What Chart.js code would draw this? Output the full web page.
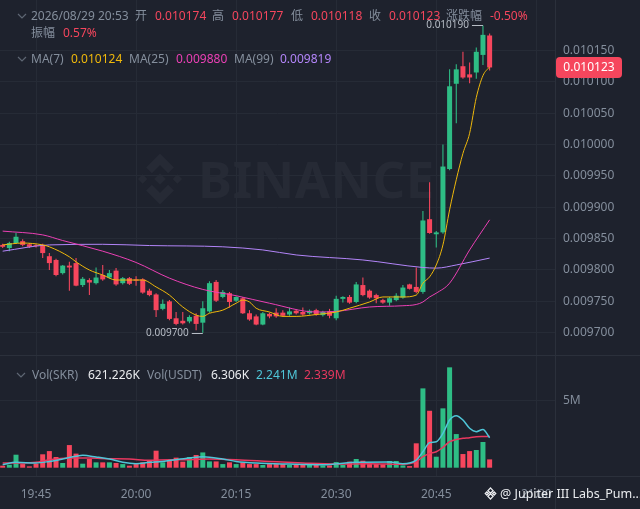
<!DOCTYPE html>
<html>
<head>
<meta charset="utf-8">
<script src="https://cdn.jsdelivr.net/npm/chart.js@4.4.1/dist/chart.umd.min.js"></script>
<style>
  body { margin: 0; background: #1e222d; overflow: hidden; font-family: "Noto Sans", "Noto Sans CJK SC", sans-serif; }
  #wrap { position: relative; width: 640px; height: 509px; }
  .t { position: absolute; font-size: 12px; line-height: 14px; white-space: nowrap; color: #848e9c; }
  .r { color: #f6465d; }
  .w { color: #eaecef; }
  .box { position: absolute; left: 0; width: 640px; }
  .sep { position: absolute; background: #2b303b; }
  .chev { position: absolute; }
</style>
</head>
<body>
<div id="wrap">
  <!-- watermark -->
  <svg style="position:absolute;left:130px;top:150px" width="60" height="58" viewBox="0 0 100 100">
    <g fill="#262a35">
      <polygon points="50,40 60,50 50,60 40,50"/>
      <polygon points="20,42 28,50 20,58 12,50"/>
      <polygon points="80,42 88,50 80,58 72,50"/>
      <polygon points="50,6 74,30 64,40 50,26 36,40 26,30"/>
      <polygon points="50,94 74,70 64,60 50,74 36,60 26,70"/>
    </g>
  </svg>
  <div style="position:absolute;left:198px;top:143px;font-size:51px;font-weight:bold;color:#262a35;letter-spacing:0.5px;">BINANCE</div>

  <div class="box" style="top:0;height:356px"><canvas id="price"></canvas></div>
  <div class="box" style="top:356px;height:153px"><canvas id="vol"></canvas></div>

  <div class="sep" style="left:0;top:355px;width:640px;height:1px"></div>
  <div class="sep" style="left:0;top:476px;width:640px;height:1px"></div>
  <div class="sep" style="left:555px;top:0;width:1px;height:509px"></div>

  <!-- header -->
  <svg class="chev" style="left:17px;top:13px" width="10" height="7"><polyline points="1,1 5,5 9,1" fill="none" stroke="#5e6673" stroke-width="1.2"/></svg>
  <div class="t" style="left:31px;top:9px">2026/08/29 20:53</div>
  <div class="t" style="left:135px;top:9px">开</div>
  <div class="t r" style="left:155px;top:9px">0.010174</div>
  <div class="t" style="left:212px;top:9px">高</div>
  <div class="t r" style="left:232px;top:9px">0.010177</div>
  <div class="t" style="left:291px;top:9px">低</div>
  <div class="t r" style="left:311px;top:9px">0.010118</div>
  <div class="t" style="left:369px;top:9px">收</div>
  <div class="t r" style="left:389px;top:9px">0.010123</div>
  <div class="t" style="left:446px;top:9px">涨跌幅</div>
  <div class="t r" style="left:490px;top:9px">-0.50%</div>
  <div class="t" style="left:31px;top:26px">振幅</div>
  <div class="t r" style="left:63px;top:26px">0.57%</div>

  <svg class="chev" style="left:17px;top:56px" width="10" height="7"><polyline points="1,1 5,5 9,1" fill="none" stroke="#5e6673" stroke-width="1.2"/></svg>
  <div class="t" style="left:31px;top:52px">MA(7)</div>
  <div class="t" style="left:71px;top:52px;color:#f0b90b">0.010124</div>
  <div class="t" style="left:129px;top:52px">MA(25)</div>
  <div class="t" style="left:176px;top:52px;color:#eb40b5">0.009880</div>
  <div class="t" style="left:234px;top:52px">MA(99)</div>
  <div class="t" style="left:280px;top:52px;color:#b385f9">0.009819</div>

  <svg class="chev" style="left:16px;top:372px" width="10" height="7"><polyline points="1,1 5,5 9,1" fill="none" stroke="#5e6673" stroke-width="1.2"/></svg>
  <div class="t" style="left:32px;top:368px">Vol(SKR)</div>
  <div class="t w" style="left:88px;top:368px">621.226K</div>
  <div class="t" style="left:147px;top:368px">Vol(USDT)</div>
  <div class="t w" style="left:211px;top:368px">6.306K</div>
  <div class="t" style="left:256px;top:368px;color:#4fc6d8">2.241M</div>
  <div class="t" style="left:304px;top:368px;color:#e8385f">2.339M</div>

  <svg style="position:absolute;left:484px;top:487px" width="13" height="13" viewBox="0 0 100 100">
    <g fill="none" stroke="#eaecef" stroke-width="10">
      <polygon points="50,8 70,28 50,48 30,28"/>
      <polygon points="50,52 70,72 50,92 30,72"/>
      <polygon points="10,50 22,38 34,50 22,62"/>
      <polygon points="90,50 78,38 66,50 78,62"/>
    </g>
  </svg>
  <div class="t w" style="left:500px;top:487px;font-size:12.5px">@ Jupiter III Labs_Pum...</div>
</div>

<script>
const timeLabels = ["19:45", "20:00", "20:15", "20:30", "20:45", "21:00"];
const timeTickIdx = [5, 20, 35, 50, 65, 80];
const priceTicks = [0.0097, 0.00975, 0.0098, 0.00985, 0.0099, 0.00995, 0.01, 0.01005, 0.0101, 0.01015];
const volTicks = [5];

// one candle per minute, 19:40 .. 20:53
const opens = [0.009840,0.009835,0.009843,0.009846,0.009841,0.009839,0.009840,0.009822,0.009816,0.009795,
  0.009807,0.009811,0.009776,0.009784,0.009779,0.009792,0.009788,0.009799,0.009779,0.009787,
  0.009785,0.009785,0.009767,0.009761,0.009738,0.009750,0.009723,0.009719,0.009718,0.009727,
  0.009716,0.009734,0.009781,0.009757,0.009763,0.009751,0.009755,0.009731,0.009726,0.009713,
  0.009730,0.009732,0.009732,0.009729,0.009735,0.009733,0.009731,0.009736,0.009728,0.009734,
  0.009723,0.009754,0.009757,0.009749,0.009776,0.009767,0.009760,0.009752,0.009748,0.009752,
  0.009756,0.009777,0.009773,0.009765,0.009881,0.009857,0.009860,0.009961,0.010097,0.010125,
  0.010112,0.010115,0.010143,0.010174];
const highs = [0.009842,0.009845,0.009859,0.009849,0.009843,0.009841,0.009842,0.009827,0.009818,0.009808,
  0.009813,0.009819,0.009789,0.009787,0.009804,0.009808,0.009800,0.009803,0.009789,0.009789,
  0.009790,0.009787,0.009770,0.009763,0.009753,0.009752,0.009733,0.009733,0.009728,0.009731,
  0.009750,0.009782,0.009784,0.009768,0.009765,0.009758,0.009757,0.009736,0.009729,0.009733,
  0.009732,0.009739,0.009736,0.009740,0.009737,0.009740,0.009737,0.009738,0.009735,0.009738,
  0.009759,0.009758,0.009760,0.009781,0.009788,0.009769,0.009762,0.009754,0.009757,0.009763,
  0.009776,0.009778,0.009804,0.009894,0.009940,0.009862,0.010000,0.010120,0.010128,0.010148,
  0.010131,0.010155,0.010190,0.010177];
const lows = [0.009835,0.009830,0.009842,0.009838,0.009835,0.009836,0.009819,0.009800,0.009790,0.009793,
  0.009767,0.009774,0.009773,0.009760,0.009777,0.009783,0.009786,0.009775,0.009777,0.009776,
  0.009775,0.009762,0.009758,0.009725,0.009736,0.009720,0.009712,0.009713,0.009715,0.009704,
  0.009700,0.009732,0.009749,0.009755,0.009740,0.009749,0.009730,0.009719,0.009712,0.009712,
  0.009723,0.009724,0.009725,0.009727,0.009729,0.009727,0.009729,0.009727,0.009726,0.009723,
  0.009720,0.009748,0.009746,0.009747,0.009758,0.009754,0.009747,0.009746,0.009743,0.009750,
  0.009754,0.009769,0.009763,0.009762,0.009858,0.009836,0.009858,0.009959,0.010034,0.010105,
  0.010098,0.010105,0.010127,0.010118];
const closes = [0.009837,0.009843,0.009853,0.009840,0.009837,0.009838,0.009827,0.009811,0.009792,0.009807,
  0.009804,0.009775,0.009786,0.009780,0.009788,0.009785,0.009795,0.009777,0.009787,0.009778,
  0.009783,0.009764,0.009760,0.009736,0.009746,0.009722,0.009714,0.009715,0.009725,0.009714,
  0.009739,0.009779,0.009751,0.009765,0.009749,0.009757,0.009731,0.009721,0.009713,0.009731,
  0.009726,0.009726,0.009727,0.009734,0.009731,0.009729,0.009735,0.009729,0.009733,0.009727,
  0.009754,0.009757,0.009748,0.009777,0.009760,0.009756,0.009755,0.009748,0.009755,0.009759,
  0.009772,0.009770,0.009765,0.009879,0.009859,0.009860,0.009965,0.010093,0.010120,0.010107,
  0.010107,0.010148,0.010175,0.010123];
// volume in millions
const volumes = [0.15,0.22,0.97,0.27,0.10,0.30,1.00,1.24,0.80,0.35,
  1.69,1.05,0.30,0.65,0.40,0.40,0.40,0.35,0.27,0.15,
  0.27,0.40,0.50,1.27,0.40,0.55,0.75,0.45,0.80,0.95,
  1.14,0.47,0.47,0.27,0.40,0.27,0.40,0.27,0.27,0.20,
  0.27,0.27,0.27,0.20,0.20,0.20,0.20,0.20,0.17,0.17,
  0.42,0.22,0.45,0.65,0.52,0.27,0.27,0.25,0.50,0.50,
  0.17,0.12,1.82,5.92,4.25,0.82,4.43,7.49,2.51,1.02,
  1.24,1.32,1.92,0.621];

// moving averages (candle index -> value)
const ma7Idx = [0,3,6,7,10,11,13,15,17,21,23,25,27,29,30,31,33,35,36,37,38,40,42,44,47,50,52,55,57,60,62,63,64,65,66,67,68,69,70,71,72,73];
const ma7 = [0.009840,0.009843,0.009840,0.009837,0.009821,0.009813,0.009800,0.009792,0.009784,0.009784,
  0.009773,0.009760,0.009741,0.009728,0.009726,0.009731,0.009736,0.009747,0.009752,0.009749,
  0.009739,0.009733,0.009726,0.009726,0.009729,0.009733,0.009739,0.009749,0.009757,0.009757,
  0.009760,0.009779,0.009789,0.009808,0.009840,0.009896,0.009944,0.009986,0.010018,0.010075,
  0.010110,0.010124];
const ma25Idx = [0,6,9,15,20,25,30,35,40,47,50,55,60,62,63,64,65,67,70,73];
const ma25 = [0.009862,0.009856,0.009847,0.009830,0.009812,0.009787,0.009769,0.009759,0.009747,0.009733,
  0.009734,0.009741,0.009743,0.009745,0.009749,0.009757,0.009763,0.009779,0.009832,0.009880];
const ma99Idx = [0,7,15,22,33,39,44,54,63,65,68,73];
const ma99 = [0.009830,0.009840,0.009841,0.009839,0.009837,0.009832,0.009824,0.009816,0.009804,0.009803,0.009808,0.009819];

const volMaAIdx = [0,2,5,7,9,11,12,14,16,18,20,22,24,26,28,30,33,35,38,43,48,53,58,60,62,63,64,65,66,67,68,69,70,71,72,73];
const volMaA = [0.22,0.40,0.35,0.47,0.65,0.85,0.92,0.80,0.65,0.40,0.30,0.40,0.47,0.60,0.72,0.82,0.65,0.47,0.35,0.27,
  0.22,0.40,0.42,0.30,0.57,1.19,1.87,1.94,2.56,3.56,3.88,3.56,2.94,2.69,2.86,2.241];
const volMaBIdx = [0,3,5,7,10,13,16,19,22,25,28,31,35,40,45,50,55,60,62,63,64,65,66,67,68,69,70,71,72,73];
const volMaB = [0.35,0.35,0.40,0.60,0.72,0.72,0.67,0.65,0.55,0.60,0.60,0.65,0.60,0.47,0.35,0.27,0.30,0.25,0.45,0.82,
  1.07,1.19,1.52,1.94,2.11,2.19,2.24,2.31,2.33,2.339];

const FONT = '"Noto Sans", "Noto Sans CJK SC", sans-serif';
const GREEN = "#2ebd85", RED = "#f6465d";
const GRID = "#262b36", TEXT = "#848e9c";

const pts = (idx, vals) => idx.map((x, k) => ({x, y: vals[k]}));
const candleColors = closes.map((c, i) => c >= opens[i] ? GREEN : RED);

function xAxis(showLabels) {
    return {
        type: "linear", min: -0.4, max: 82.8, offset: false,
        afterBuildTicks: s => { s.ticks = timeTickIdx.map(v => ({value: v})); },
        afterFit: s => { if (showLabels) s.height = 32; },
        grid: {color: GRID, drawTicks: false, offset: false},
        border: {display: false},
        ticks: {
            display: showLabels, autoSkip: false, maxRotation: 0, padding: 10,
            color: TEXT, font: {size: 12, family: FONT},
            callback: v => timeLabels[timeTickIdx.indexOf(v)]
        }
    };
}

function yAxis(min, max, ticks, fmt) {
    return {
        position: "right", min, max,
        afterBuildTicks: s => { s.ticks = ticks.map(v => ({value: v})); },
        afterFit: s => { s.width = 85; s.paddingTop = 0; s.paddingBottom = 0; },
        grid: {color: GRID, drawTicks: false},
        border: {display: false},
        ticks: {padding: 8, color: TEXT, font: {size: 12, family: FONT}, callback: fmt}
    };
}

const markers = {
    id: "markers",
    afterDraw(chart) {
        const {ctx, scales: {x, y}} = chart;
        ctx.save();
        ctx.font = "10px " + FONT;
        ctx.fillStyle = "#b7bdc6";
        ctx.strokeStyle = "#b7bdc6";
        ctx.lineWidth = 1;
        ctx.textAlign = "right";
        ctx.textBaseline = "middle";
        const hi = highs.indexOf(Math.max(...highs));
        const lo = lows.indexOf(Math.min(...lows));
        [[hi, highs[hi]], [lo, lows[lo]]].forEach(([i, v]) => {
            const px = x.getPixelForValue(i);
            const py = Math.round(y.getPixelForValue(v)) + 0.5;
            ctx.beginPath();
            ctx.moveTo(px - 11, py);
            ctx.lineTo(px, py);
            ctx.stroke();
            ctx.fillText(v.toFixed(6), px - 14, py);
        });
        // last price tag
        const last = closes.length - 1;
        const ty = y.getPixelForValue(closes[last]);
        ctx.fillStyle = RED;
        ctx.beginPath();
        ctx.roundRect(556, ty - 10.5, 66, 21, 4);
        ctx.fill();
        ctx.fillStyle = "#ffffff";
        ctx.font = "12px " + FONT;
        ctx.textAlign = "center";
        ctx.fillText(closes[last].toFixed(6), 589, ty + 0.5);
        ctx.restore();
    }
};

const maLine = (data, color) => ({
    type: "line", data, borderColor: color, borderWidth: 1,
    pointRadius: 0, cubicInterpolationMode: "monotone"
});

new Chart(document.getElementById("price"), {
    type: "bar",
    data: {
        datasets: [
            maLine(pts(ma7Idx, ma7), "#f0b90b"),
            maLine(pts(ma25Idx, ma25), "#eb40b5"),
            maLine(pts(ma99Idx, ma99), "#b385f9"),
            {
                data: opens.map((o, i) => ({x: i, y: [o, closes[i]]})),
                backgroundColor: candleColors,
                grouped: false, barPercentage: 0.75, categoryPercentage: 1, minBarLength: 1
            },
            {
                data: lows.map((l, i) => ({x: i, y: [l, highs[i]]})),
                backgroundColor: candleColors,
                grouped: false, barPercentage: 0.16, categoryPercentage: 1
            }
        ]
    },
    options: {
        responsive: true, maintainAspectRatio: false, animation: false,
        layout: {padding: 0},
        plugins: {legend: {display: false}, tooltip: {enabled: false}},
        scales: {
            x: xAxis(false),
            y: yAxis(0.00966284, 0.0102306, priceTicks, v => v.toFixed(6))
        }
    },
    plugins: [markers]
});

new Chart(document.getElementById("vol"), {
    type: "bar",
    data: {
        datasets: [
            {type: "line", data: pts(volMaAIdx, volMaA), borderColor: "#4fc6d8", borderWidth: 1.5, pointRadius: 0, cubicInterpolationMode: "monotone"},
            {type: "line", data: pts(volMaBIdx, volMaB), borderColor: "#e8385f", borderWidth: 1.5, pointRadius: 0, cubicInterpolationMode: "monotone"},
            {
                data: volumes.map((v, i) => ({x: i, y: v})),
                backgroundColor: candleColors,
                grouped: false, barPercentage: 0.75, categoryPercentage: 1
            }
        ]
    },
    options: {
        responsive: true, maintainAspectRatio: false, animation: false,
        layout: {padding: 0},
        plugins: {legend: {display: false}, tooltip: {enabled: false}},
        scales: {
            x: xAxis(true),
            y: yAxis(-0.694, 8.336, volTicks, v => v + "M")
        }
    }
});
</script>
</body>
</html>
